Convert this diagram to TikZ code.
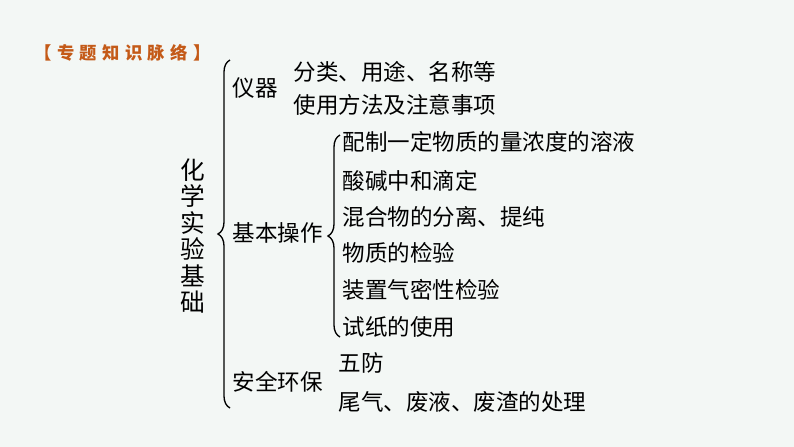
\documentclass[tikz,border=0pt]{standalone}
\usepackage{fontspec}
\setmainfont{Noto Sans CJK SC}
\usetikzlibrary{decorations.pathreplacing}
\definecolor{bgpaper}{RGB}{243,247,245}
\definecolor{headorange}{RGB}{196,90,24}
\tikzset{every picture/.style={line width=0.75pt}}
\tikzset{
  leaf/.style={anchor=west,inner sep=0pt,font=\fontsize{16.9}{20}\selectfont},
  bracebig/.style={decorate,decoration={brace,amplitude=9pt},line width=1pt},
  bracesmall/.style={decorate,decoration={brace,amplitude=9pt},line width=1pt}
}

\begin{document}
\begin{tikzpicture}[x=0.75pt,y=0.75pt,yscale=-1,xscale=1]
%set diagram left start at 0, and has height of 447
\path [fill=bgpaper] (0,0) rectangle (794,447);
\useasboundingbox (0,0) rectangle (794,447);

% Text Node
\node (head) at (34,53) [anchor=west,inner sep=0pt,text=headorange,font=\fontsize{13}{15}\selectfont\bfseries] {【\hspace{4pt}专\hspace{4pt}题\hspace{4pt}知\hspace{4pt}识\hspace{4pt}脉\hspace{4pt}络\hspace{4pt}】};
% Text Node
\node (root) at (193,236) [inner sep=0pt,align=center,font=\fontsize{18.5}{19.8}\selectfont] {化\\学\\实\\验\\基\\础};

%Brace: root
\coordinate (bigtop) at (230,60);
\coordinate (bigbot) at (230,408);
\draw [bracebig] (bigbot) -- (bigtop);

% Text Node
\node (yiqi) at (232,88) [leaf] {仪器};
% Text Node
\node (fenlei) at (293,72) [leaf] {分类、用途、名称等};
% Text Node
\node (shiyong) at (293,105) [leaf] {使用方法及注意事项};

% Text Node
\node (caozuo) at (232,233) [leaf] {基本操作};

%Brace: caozuo
\coordinate (smalltop) at (340,135);
\coordinate (smallbot) at (340,337);
\draw [bracesmall] (smallbot) -- (smalltop);

% Text Node
\node (peizhi) at (342,142) [leaf] {配制一定物质的量浓度的溶液};
% Text Node
\node (suanjian) at (342,181) [leaf] {酸碱中和滴定};
% Text Node
\node (hunhe) at (342,217) [leaf] {混合物的分离、提纯};
% Text Node
\node (jianyan) at (342,253) [leaf] {物质的检验};
% Text Node
\node (qimi) at (342,290) [leaf] {装置气密性检验};
% Text Node
\node (shizhi) at (342,327) [leaf] {试纸的使用};

% Text Node
\node (anquan) at (232,382) [leaf] {安全环保};
% Text Node
\node (wufang) at (338,363) [leaf] {五防};
% Text Node
\node (weiqi) at (338,402) [leaf] {尾气、废液、废渣的处理};

\end{tikzpicture}
\end{document}
